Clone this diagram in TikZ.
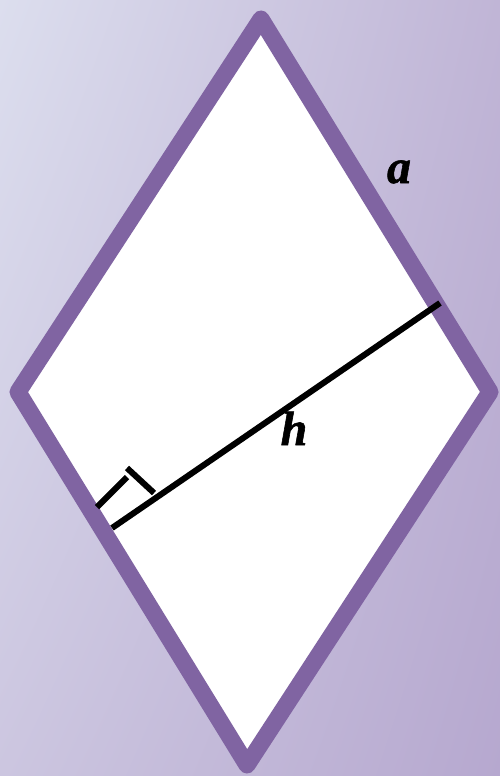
\documentclass[tikz,border=0pt]{standalone}
\usepackage{fontspec}
\setmainfont{Liberation Serif}
\newfontfamily\lblfont{Liberation Serif}[BoldItalicFeatures={FakeBold=1.2}]
\usetikzlibrary{shadings}
\begin{document}
\begin{tikzpicture}[x=1pt,y=-1pt,
  rhomb/.style={draw=rhpurple,line width=17pt,line join=round,fill=white},
  blk/.style={draw=black,line width=6pt},
  shd/.style={draw=black,line width=6pt,opacity=0.18},
  lbl/.style={font=\lblfont\fontsize{48}{48}\selectfont\bfseries\itshape,inner sep=0pt,anchor=base}]
\definecolor{rhpurple}{HTML}{8064A2}
\definecolor{bgtl}{HTML}{DCDEEE}
\definecolor{bgtr}{HTML}{C0B5D6}
\definecolor{bgbl}{HTML}{CCC6E0}
\definecolor{bgbr}{HTML}{B6A8CF}
\useasboundingbox (0,0) rectangle (500,776);
\shade[upper left=bgtl,upper right=bgtr,lower left=bgbl,lower right=bgbr] (0,0) rectangle (500,776);
\coordinate (T) at (261,19);
\coordinate (R) at (490,392);
\coordinate (B) at (247,765);
\coordinate (L) at (18,392);
\draw[rhomb] (T) -- (R) -- (B) -- (L) -- cycle;
% height
\coordinate (H1) at (112,528);
\coordinate (H2) at (440,303);
\coordinate (M1) at (97,507);
\coordinate (M2) at (127,477);
\coordinate (M3) at (127,468);
\coordinate (M4) at (154,493);
\begin{scope}[shift={(1.5,2.5)}]
\draw[shd] (H1) -- (H2);
\draw[shd] (M1) -- (M2);
\draw[shd] (M3) -- (M4);
\end{scope}
\draw[blk] (H1) -- (H2);
\draw[blk] (M1) -- (M2);
\draw[blk] (M3) -- (M4);
\node[lbl] (la) at (399,183) {a};
\node[lbl] (lh) at (294,445) {h};
\end{tikzpicture}
\end{document}
